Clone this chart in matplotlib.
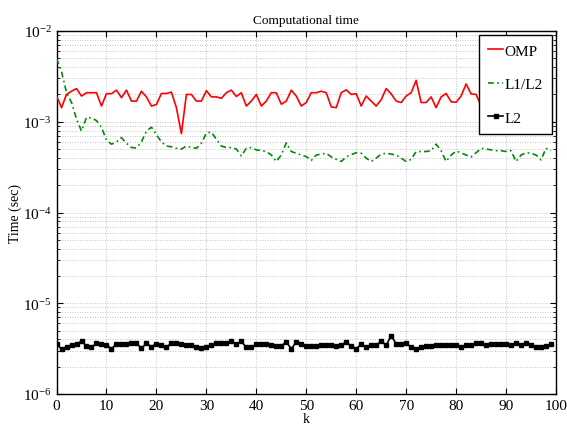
import numpy as np
import matplotlib
matplotlib.use("Agg")
import matplotlib.pyplot as plt
from matplotlib.ticker import LogLocator, MultipleLocator, NullFormatter

plt.rcParams["font.family"] = ["Liberation Serif", "DejaVu Serif"]
plt.rcParams["mathtext.fontset"] = "stix"

k = np.arange(100)

omp = [1.92e-3, 1.43e-3, 2.0e-3, 2.17e-3, 2.32e-3, 1.92e-3, 2.09e-3, 2.09e-3, 2.09e-3, 1.49e-3,
       2.04e-3, 2.04e-3, 2.23e-3, 1.84e-3, 2.23e-3, 1.69e-3, 1.69e-3, 2.17e-3, 1.88e-3, 1.49e-3,
       1.55e-3, 2.05e-3, 2.05e-3, 2.12e-3, 1.43e-3, 7.4e-4, 2.0e-3, 2.0e-3, 1.69e-3, 1.69e-3,
       2.2e-3, 1.88e-3, 1.88e-3, 1.81e-3, 2.09e-3, 2.23e-3, 1.9e-3, 2.09e-3, 1.49e-3, 1.69e-3,
       2.0e-3, 1.49e-3, 1.69e-3, 2.09e-3, 2.09e-3, 1.56e-3, 1.69e-3, 2.23e-3, 1.92e-3, 1.49e-3,
       1.63e-3, 2.09e-3, 2.09e-3, 2.17e-3, 2.09e-3, 1.46e-3, 1.43e-3, 2.09e-3, 2.25e-3, 2.0e-3,
       2.04e-3, 1.49e-3, 1.92e-3, 1.69e-3, 1.49e-3, 1.75e-3, 2.32e-3, 2.03e-3, 1.69e-3, 1.63e-3,
       1.92e-3, 2.09e-3, 2.86e-3, 1.63e-3, 1.63e-3, 1.88e-3, 1.43e-3, 1.88e-3, 2.05e-3, 1.66e-3,
       1.64e-3, 1.92e-3, 2.61e-3, 2.03e-3, 2.0e-3, 1.49e-3, 1.43e-3, 1.95e-3, 2.1e-3, 1.7e-3,
       1.9e-3, 2.05e-3, 1.6e-3, 1.85e-3, 2.1e-3, 1.55e-3, 1.9e-3, 2.0e-3, 1.75e-3, 1.95e-3]

l1l2 = [4.98e-3, 3.57e-3, 2.09e-3, 1.63e-3, 1.07e-3, 7.9e-4, 1.12e-3, 1.1e-3, 1.03e-3, 8.7e-4,
        6.27e-4, 5.66e-4, 6.0e-4, 6.68e-4, 5.8e-4, 5.2e-4, 5.15e-4, 6.0e-4, 7.9e-4, 8.7e-4,
        7.2e-4, 6.0e-4, 5.4e-4, 5.3e-4, 5.1e-4, 5.0e-4, 5.4e-4, 5.2e-4, 5.1e-4, 5.8e-4,
        7.5e-4, 7.7e-4, 6.4e-4, 5.4e-4, 5.2e-4, 5.2e-4, 5.0e-4, 4.2e-4, 5.1e-4, 5.2e-4,
        4.9e-4, 4.8e-4, 4.7e-4, 4.3e-4, 3.65e-4, 4.3e-4, 5.86e-4, 4.7e-4, 4.5e-4, 4.3e-4,
        4.13e-4, 3.75e-4, 4.3e-4, 4.4e-4, 4.5e-4, 4.1e-4, 3.85e-4, 3.65e-4, 4.1e-4, 4.35e-4,
        4.55e-4, 4.5e-4, 3.97e-4, 3.65e-4, 3.97e-4, 4.4e-4, 4.5e-4, 4.4e-4, 4.3e-4, 3.97e-4,
        3.65e-4, 3.85e-4, 4.7e-4, 4.7e-4, 4.7e-4, 4.8e-4, 5.66e-4, 4.8e-4, 3.65e-4, 4.3e-4,
        4.75e-4, 4.55e-4, 4.3e-4, 4.1e-4, 4.55e-4, 5.1e-4, 5.0e-4, 4.9e-4, 4.8e-4, 4.8e-4,
        4.7e-4, 4.8e-4, 3.65e-4, 4.3e-4, 4.55e-4, 4.5e-4, 4.3e-4, 3.8e-4, 5.1e-4, 4.8e-4]

l2 = [3.54e-6, 3.15e-6, 3.28e-6, 3.48e-6, 3.58e-6, 3.8e-6, 3.4e-6, 3.28e-6, 3.6e-6, 3.54e-6,
      3.48e-6, 3.15e-6, 3.54e-6, 3.54e-6, 3.54e-6, 3.65e-6, 3.6e-6, 3.2e-6, 3.6e-6, 3.33e-6,
      3.56e-6, 3.43e-6, 3.28e-6, 3.62e-6, 3.6e-6, 3.54e-6, 3.43e-6, 3.48e-6, 3.33e-6, 3.25e-6,
      3.3e-6, 3.43e-6, 3.62e-6, 3.63e-6, 3.65e-6, 3.8e-6, 3.53e-6, 3.8e-6, 3.26e-6, 3.28e-6,
      3.53e-6, 3.53e-6, 3.53e-6, 3.48e-6, 3.4e-6, 3.4e-6, 3.73e-6, 3.15e-6, 3.73e-6, 3.56e-6,
      3.4e-6, 3.4e-6, 3.38e-6, 3.48e-6, 3.43e-6, 3.48e-6, 3.37e-6, 3.48e-6, 3.73e-6, 3.37e-6,
      3.15e-6, 3.53e-6, 3.26e-6, 3.43e-6, 3.43e-6, 3.86e-6, 3.43e-6, 4.41e-6, 3.56e-6, 3.53e-6,
      3.63e-6, 3.26e-6, 3.13e-6, 3.28e-6, 3.37e-6, 3.4e-6, 3.43e-6, 3.48e-6, 3.43e-6, 3.48e-6,
      3.43e-6, 3.28e-6, 3.43e-6, 3.48e-6, 3.63e-6, 3.6e-6, 3.43e-6, 3.53e-6, 3.53e-6, 3.56e-6,
      3.53e-6, 3.48e-6, 3.6e-6, 3.48e-6, 3.63e-6, 3.43e-6, 3.26e-6, 3.3e-6, 3.38e-6, 3.56e-6]

fig = plt.figure(figsize=(5.67, 4.27), dpi=100)
ax = fig.add_axes([0.0997, 0.075, 0.8809, 0.850])

ax.plot(k, omp, color="red", lw=1.2, label="OMP", zorder=3)
ax.plot(k, l1l2, color="#008c00", lw=1.2, dashes=(3.5, 2, 1, 2), label="L1/L2", zorder=3)
ax.plot(k, l2, color="black", lw=1.2, marker="s", ms=2.6, label="L2", zorder=3)

ax.set_yscale("log")
ax.set_xlim(0, 100)
ax.set_ylim(1e-6, 1e-2)
ax.xaxis.set_major_locator(MultipleLocator(10))
ax.yaxis.set_major_locator(LogLocator(base=10, numticks=10))
ax.yaxis.set_minor_locator(LogLocator(base=10, subs=np.arange(2, 10), numticks=20))
ax.yaxis.set_minor_formatter(NullFormatter())

ax.grid(True, which="major", ls=(0, (1, 2)), color="#b0b0b0", lw=0.6)
ax.grid(True, which="minor", axis="y", ls=(0, (1, 2)), color="#b0b0b0", lw=0.6)
ax.tick_params(which="both", direction="in", top=True, right=True, labelsize=11)
ax.tick_params(which="major", length=4)
ax.tick_params(which="minor", length=2)
for s in ax.spines.values():
    s.set_linewidth(1.0)

ax.set_title("Computational time", fontsize=9.5, pad=6)
ax.set_xlabel("k", fontsize=10, labelpad=0)
ax.set_ylabel("Time (sec)", fontsize=10, labelpad=1)

leg = ax.legend(loc="upper right", fontsize=11, fancybox=False, edgecolor="black",
                framealpha=1, handlelength=1.0, handletextpad=0.1, labelspacing=1.3,
                borderpad=0.6, borderaxespad=0.25)
leg.get_frame().set_linewidth(1.0)

fig.savefig("out.png", dpi=100)
